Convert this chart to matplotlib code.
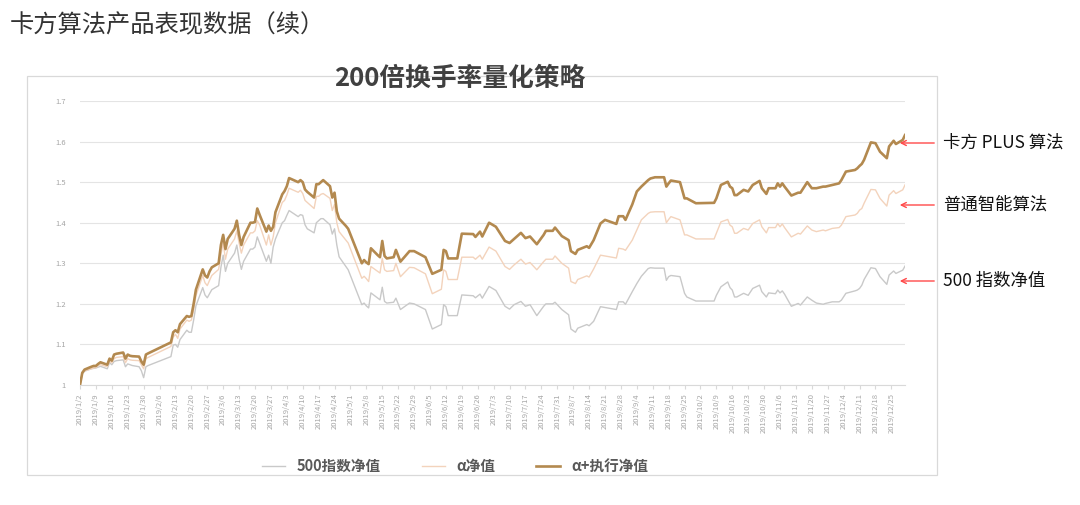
# -*- coding: utf-8 -*-
import numpy as np
import pandas as pd
import matplotlib
matplotlib.use('Agg')
import matplotlib.pyplot as plt
from matplotlib.patches import Rectangle

plt.rcParams['font.family'] = ['Noto Sans CJK SC', 'DejaVu Sans']

# %% Datos (valores aproximados)

fechas = ['01-02', '01-03', '01-04', '01-07', '01-08', '01-09', '01-10', '01-11', '01-14', '01-15',
          '01-16', '01-17', '01-18', '01-21', '01-22', '01-23', '01-24', '01-25', '01-28', '01-29',
          '01-30', '01-31', '02-01', '02-11', '02-12', '02-13', '02-14', '02-15', '02-18', '02-19',
          '02-20', '02-21', '02-22', '02-25', '02-26', '02-27', '02-28', '03-01', '03-04', '03-05',
          '03-06', '03-07', '03-08', '03-11', '03-12', '03-13', '03-14', '03-15', '03-18', '03-19',
          '03-20', '03-21', '03-22', '03-25', '03-26', '03-27', '03-28', '03-29', '04-01', '04-02',
          '04-03', '04-04', '04-08', '04-09', '04-10', '04-11', '04-12', '04-15', '04-16', '04-17',
          '04-18', '04-19', '04-22', '04-23', '04-24', '04-25', '04-26', '04-29', '04-30', '05-06',
          '05-07', '05-08', '05-09', '05-10', '05-13', '05-14', '05-15', '05-16', '05-17', '05-20',
          '05-21', '05-23', '05-27', '05-29', '06-03', '06-06', '06-10', '06-11', '06-12', '06-13',
          '06-17', '06-19', '06-24', '06-25', '06-27', '06-28', '07-01', '07-04', '07-08', '07-10',
          '07-12', '07-15', '07-17', '07-19', '07-22', '07-25', '07-26', '07-29', '07-30', '08-02',
          '08-05', '08-06', '08-08', '08-09', '08-13', '08-14', '08-16', '08-19', '08-21', '08-26',
          '08-27', '08-29', '08-30', '09-02', '09-04', '09-06', '09-09', '09-10', '09-12', '09-16',
          '09-17', '09-18', '09-19', '09-23', '09-25', '09-26', '09-30', '10-08', '10-09', '10-11',
          '10-14', '10-15', '10-16', '10-17', '10-18', '10-21', '10-23', '10-25', '10-28', '10-29',
          '10-31', '11-01', '11-04', '11-05', '11-06', '11-07', '11-08', '11-11', '11-14', '11-15',
          '11-18', '11-20', '11-22', '11-25', '11-26', '11-29', '12-02', '12-03', '12-05', '12-09',
          '12-10', '12-11', '12-12', '12-13', '12-16', '12-18', '12-20', '12-23', '12-24', '12-26',
          '12-27', '12-30', '12-31']

# alpha + ejecucion (linea dorada)
plus = [1.000, 1.030, 1.038, 1.045, 1.047, 1.047, 1.052, 1.056, 1.050, 1.065,
        1.060, 1.075, 1.077, 1.080, 1.065, 1.075, 1.072, 1.071, 1.070, 1.058,
        1.050, 1.075, 1.078, 1.105, 1.130, 1.135, 1.130, 1.150, 1.170, 1.168,
        1.170, 1.200, 1.235, 1.285, 1.270, 1.265, 1.280, 1.290, 1.300, 1.345,
        1.370, 1.335, 1.360, 1.385, 1.405, 1.370, 1.345, 1.365, 1.400, 1.400,
        1.402, 1.435, 1.420, 1.378, 1.393, 1.380, 1.390, 1.426, 1.470, 1.478,
        1.490, 1.510, 1.500, 1.505, 1.500, 1.482, 1.476, 1.462, 1.495, 1.495,
        1.500, 1.505, 1.490, 1.462, 1.474, 1.428, 1.410, 1.392, 1.385, 1.300,
        1.308, 1.302, 1.298, 1.337, 1.320, 1.315, 1.355, 1.318, 1.312, 1.315,
        1.333, 1.304, 1.330, 1.330, 1.315, 1.274, 1.284, 1.333, 1.330, 1.312,
        1.312, 1.373, 1.372, 1.365, 1.378, 1.366, 1.400, 1.390, 1.355, 1.350,
        1.360, 1.375, 1.362, 1.366, 1.347, 1.370, 1.380, 1.380, 1.388, 1.367,
        1.357, 1.330, 1.323, 1.333, 1.342, 1.338, 1.357, 1.398, 1.407, 1.397,
        1.416, 1.416, 1.407, 1.445, 1.477, 1.489, 1.505, 1.509, 1.512, 1.512,
        1.489, 1.497, 1.504, 1.500, 1.460, 1.460, 1.448, 1.449, 1.460, 1.493,
        1.501, 1.489, 1.485, 1.468, 1.468, 1.481, 1.477, 1.493, 1.503, 1.485,
        1.471, 1.485, 1.485, 1.497, 1.489, 1.497, 1.489, 1.467, 1.474, 1.474,
        1.500, 1.485, 1.485, 1.489, 1.489, 1.493, 1.497, 1.505, 1.526, 1.530,
        1.534, 1.540, 1.545, 1.555, 1.598, 1.596, 1.575, 1.559, 1.588, 1.602,
        1.594, 1.604, 1.616]

# alpha (linea durazno)
alfa = [1.000, 1.028, 1.035, 1.040, 1.042, 1.043, 1.048, 1.050, 1.045, 1.058,
        1.055, 1.065, 1.068, 1.070, 1.055, 1.065, 1.062, 1.061, 1.060, 1.050,
        1.040, 1.065, 1.068, 1.095, 1.118, 1.125, 1.115, 1.138, 1.160, 1.157,
        1.160, 1.185, 1.220, 1.270, 1.252, 1.245, 1.258, 1.270, 1.285, 1.322,
        1.350, 1.310, 1.335, 1.360, 1.380, 1.350, 1.325, 1.345, 1.375, 1.375,
        1.380, 1.405, 1.395, 1.345, 1.370, 1.345, 1.365, 1.400, 1.450, 1.455,
        1.468, 1.485, 1.475, 1.480, 1.472, 1.455, 1.450, 1.435, 1.465, 1.465,
        1.470, 1.472, 1.460, 1.430, 1.445, 1.400, 1.378, 1.357, 1.350, 1.263,
        1.268, 1.262, 1.255, 1.292, 1.280, 1.276, 1.312, 1.284, 1.280, 1.282,
        1.300, 1.267, 1.290, 1.289, 1.274, 1.225, 1.236, 1.284, 1.280, 1.260,
        1.260, 1.315, 1.315, 1.310, 1.320, 1.310, 1.340, 1.330, 1.292, 1.285,
        1.296, 1.310, 1.298, 1.302, 1.284, 1.304, 1.310, 1.310, 1.318, 1.300,
        1.288, 1.255, 1.250, 1.260, 1.269, 1.266, 1.286, 1.320, 1.318, 1.313,
        1.337, 1.335, 1.332, 1.357, 1.382, 1.407, 1.423, 1.426, 1.427, 1.427,
        1.400, 1.408, 1.415, 1.407, 1.370, 1.370, 1.360, 1.360, 1.374, 1.402,
        1.408, 1.394, 1.390, 1.374, 1.374, 1.386, 1.382, 1.398, 1.407, 1.390,
        1.375, 1.388, 1.388, 1.398, 1.390, 1.397, 1.388, 1.365, 1.374, 1.372,
        1.392, 1.382, 1.378, 1.382, 1.380, 1.386, 1.388, 1.394, 1.415, 1.419,
        1.423, 1.431, 1.435, 1.448, 1.482, 1.481, 1.460, 1.441, 1.468, 1.479,
        1.472, 1.481, 1.493]

# indice 500 (linea gris)
idx500 = [1.000, 1.028, 1.034, 1.040, 1.041, 1.042, 1.044, 1.046, 1.040, 1.055,
          1.050, 1.058, 1.060, 1.062, 1.045, 1.052, 1.050, 1.048, 1.045, 1.035,
          1.018, 1.045, 1.048, 1.070, 1.098, 1.100, 1.093, 1.112, 1.135, 1.130,
          1.130, 1.160, 1.195, 1.240, 1.222, 1.215, 1.225, 1.235, 1.245, 1.290,
          1.320, 1.280, 1.300, 1.325, 1.345, 1.310, 1.285, 1.305, 1.335, 1.335,
          1.340, 1.365, 1.350, 1.305, 1.320, 1.300, 1.340, 1.360, 1.400, 1.405,
          1.418, 1.430, 1.415, 1.420, 1.418, 1.395, 1.385, 1.375, 1.400, 1.405,
          1.410, 1.410, 1.395, 1.372, 1.385, 1.345, 1.316, 1.292, 1.284, 1.198,
          1.202, 1.195, 1.190, 1.227, 1.214, 1.210, 1.241, 1.206, 1.202, 1.204,
          1.214, 1.186, 1.202, 1.200, 1.186, 1.138, 1.149, 1.198, 1.193, 1.171,
          1.171, 1.222, 1.220, 1.215, 1.224, 1.214, 1.243, 1.233, 1.194, 1.187,
          1.198, 1.206, 1.194, 1.198, 1.171, 1.194, 1.200, 1.200, 1.204, 1.186,
          1.173, 1.138, 1.130, 1.140, 1.149, 1.146, 1.157, 1.193, 1.191, 1.186,
          1.205, 1.205, 1.199, 1.230, 1.250, 1.268, 1.287, 1.289, 1.288, 1.288,
          1.258, 1.267, 1.270, 1.267, 1.226, 1.217, 1.207, 1.207, 1.221, 1.242,
          1.254, 1.240, 1.234, 1.217, 1.217, 1.226, 1.221, 1.238, 1.246, 1.230,
          1.217, 1.227, 1.225, 1.234, 1.227, 1.232, 1.224, 1.194, 1.201, 1.197,
          1.217, 1.209, 1.202, 1.199, 1.201, 1.205, 1.205, 1.209, 1.226, 1.232,
          1.234, 1.238, 1.246, 1.260, 1.289, 1.287, 1.267, 1.248, 1.271, 1.281,
          1.275, 1.283, 1.293]

etiquetas_serie = ['500指数净值', 'α净值', 'α+执行净值']
notas = ['卡方 PLUS 算法', '普通智能算法', '500 指数净值']
yticks = [1.0, 1.1, 1.2, 1.3, 1.4, 1.5, 1.6, 1.7]
ytick_lbl = ['1', '1.1', '1.2', '1.3', '1.4', '1.5', '1.6', '1.7']

tt = pd.to_datetime(['2019-' + f for f in fechas])
semanas = pd.date_range('2019-01-02', '2019-12-25', freq='7D')

# %% Grafico

W, H = 1080, 505
fig = plt.figure(figsize=(W / 100, H / 100), dpi=100)
fig.patch.set_facecolor('white')

# marco del grafico
fig.add_artist(Rectangle((27 / W, 1 - 475 / H), 910 / W, 399 / H, transform=fig.transFigure,
                         fill=False, ec='#D9D9D9', lw=0.9))

fig.text(10 / W, 1 - 25 / H, '卡方算法产品表现数据（续）', fontsize=17.5, color='#333333',
         va='center', ha='left')
fig.text(460 / W, 1 - 78 / H, '200倍换手率量化策略', fontsize=18.5, fontweight='bold',
         color='#404040', va='center', ha='center')

ax = fig.add_axes([80 / W, 1 - 385 / H, 825 / W, 284 / H])
l1, = ax.plot(tt, idx500, color='#C9C9C9', lw=1.0)
l2, = ax.plot(tt, alfa, color='#F3D3BC', lw=1.0)
l3, = ax.plot(tt, plus, color='#B3894F', lw=1.9)

ax.set_xlim(pd.Timestamp('2019-01-02'), pd.Timestamp('2019-12-31'))
ax.set_ylim(1.0, 1.7)
ax.set_yticks(yticks)
ax.set_yticklabels(ytick_lbl)
ax.set_xticks(semanas)
ax.set_xticklabels([f'{d.year}/{d.month}/{d.day}' for d in semanas], rotation=90)
ax.tick_params(axis='y', length=0, labelsize=5.5, labelcolor='#A6A6A6', pad=10)
ax.tick_params(axis='x', length=3, color='#D9D9D9', labelsize=5.5, labelcolor='#A6A6A6', pad=3)
ax.grid(axis='y', color='#E4E4E4', lw=0.8)
ax.set_axisbelow(True)
for s in ['top', 'right', 'left']:
    ax.spines[s].set_visible(False)
ax.spines['bottom'].set_color('#D9D9D9')
ax.spines['bottom'].set_linewidth(0.8)

leg = fig.legend([l1, l2, l3], etiquetas_serie, loc='center', bbox_to_anchor=(455 / W, 1 - 466 / H),
                 ncol=3, frameon=False, handlelength=1.6, columnspacing=2.8,
                 prop={'size': 10.5, 'weight': 'bold'})
for t in leg.get_texts():
    t.set_color('#595959')

# flechas y notas a la derecha
y_notas = [143, 205, 281]
for txt, yp in zip(notas, y_notas):
    fig.add_artist(matplotlib.patches.FancyArrowPatch(
        (937 / W, 1 - yp / H), (897 / W, 1 - yp / H), transform=fig.transFigure,
        arrowstyle='->', mutation_scale=9, color='#FF4A4A', lw=1.0))
    fig.text(943 / W, 1 - yp / H, txt, fontsize=12.5, color='#111111', va='center', ha='left')

fig.savefig('out.png', dpi=100)
